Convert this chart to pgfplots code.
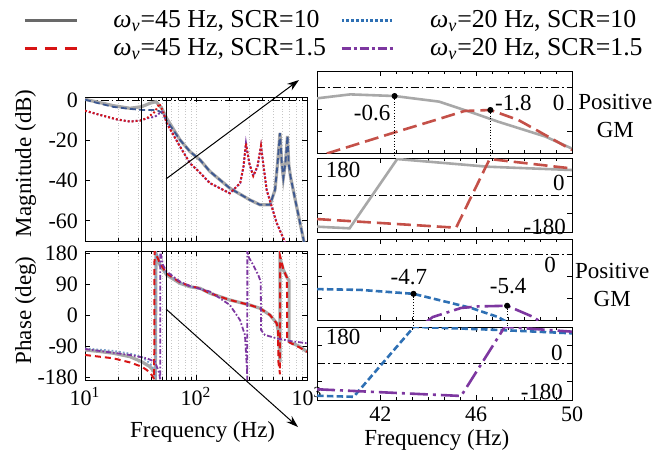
\documentclass[border=0pt]{standalone}
\usepackage{fontspec}
\setmainfont{Liberation Serif}
\usepackage{pgfplots}
\pgfplotsset{compat=1.18}
\usetikzlibrary{arrows.meta}

\definecolor{cgray}{RGB}{168,168,168}
\definecolor{cgrayleg}{RGB}{105,105,105}
\definecolor{cblue}{RGB}{46,112,180}
\definecolor{cbluedark}{RGB}{60,88,145}
\definecolor{cbluelight}{RGB}{125,160,200}
\definecolor{cred}{RGB}{215,20,20}
\definecolor{credr}{RGB}{196,80,72}
\definecolor{cpurple}{RGB}{125,55,160}

\newcommand{\wv}{\textit{ω}\textsubscript{\textit{v}}}

\tikzset{
  zero/.style={black, thin, dash pattern=on 4pt off 1.5pt on 0.8pt off 1.5pt},
  ann/.style={font=\fontsize{11.5}{13}\selectfont, inner sep=0pt},
}
\pgfplotsset{
  every axis/.append style={scale only axis, clip mode=individual, anchor=north west,
    tick label style={font=\fontsize{11}{12}\selectfont},
    label style={font=\fontsize{11.5}{13}\selectfont},
    tick style={black, line width=0.4pt}, major tick length=2.5pt, minor tick length=1.5pt,
    axis line style={line width=0.5pt}},
}

\begin{document}
\begin{tikzpicture}
\path[use as bounding box] (0,0) rectangle (336pt,-228pt);

% ---------------- left: magnitude
\begin{axis}[at={(42.5pt,-48.5pt)}, width=111pt, height=72pt,
  xmode=log, xmin=10, xmax=1000, xtick={10,100,1000}, xticklabels={},
  xmajorgrids, xminorgrids,
  major grid style={densely dotted, gray!45}, minor grid style={densely dotted, gray!45},
  ymin=-70, ymax=1.5, ytick={-60,-40,-20,0}, yticklabels={-60,-40,-20,0},
  ylabel={Magnitude (dB)},
  ylabel style={at={(axis description cs:-0.268,0.54)}, anchor=center},
  legend columns=2, legend cell align=left,
  legend image code/.code={\draw[#1] (0pt,0pt) -- (26pt,0pt);},
  legend style={at={(axis description cs:-0.279,1.434)}, anchor=west,
    draw=none, fill=none, inner sep=0pt,
    font=\fontsize{12.9}{14}\selectfont,
    nodes={inner ysep=0.5pt, inner xsep=0pt},
    /tikz/every odd column/.append style={column sep=17.5pt},
    /tikz/every even column/.append style={column sep=7pt},
    /tikz/row sep=3pt},
]
\addlegendimage{cgrayleg, line width=1.5pt}
\addlegendentry{\wv=45 Hz, SCR=10}
\addlegendimage{cblue, densely dotted, line width=1.4pt}
\addlegendentry{\wv=20 Hz, SCR=10}
\addlegendimage{cred, dash pattern=on 6pt off 4pt, line width=1.5pt}
\addlegendentry{\wv=45 Hz, SCR=1.5}
\addlegendimage{cpurple, dash pattern=on 4.5pt off 1.5pt on 1.5pt off 1.5pt, line width=1.5pt}
\addlegendentry{\wv=20 Hz, SCR=1.5}

\addplot[zero, forget plot] coordinates {(10,0) (1000,0)};
% 45 Hz, SCR=10
\addplot[cgray, line width=1.6pt, forget plot] coordinates {
(10,0.35) (13.65,-1.3) (18,-2.8) (25.4,-4.1) (32.4,-3.3) (38.5,-1.6) (43.6,-0.8)
(49.1,-4.1) (54.5,-9.1) (71.8,-19.8) (88.3,-25.6) (108.7,-29.7) (133.7,-35.5)
(202,-43.8) (306,-49.6) (377,-52) (464,-52) (515,-44.6) (543,-31.4) (571,-16.4)
(592,-31) (612,-38.7) (640,-31) (667,-17.8) (685,-32) (710,-38) (760,-46)
(865,-61) (940,-70.5)};
% 20 Hz, SCR=10
\addplot[cbluedark, line width=0.9pt, dash pattern=on 3pt off 1.6pt, forget plot] coordinates {
(10,0.2) (13.65,-1.8) (18,-3.4) (25.4,-4.4) (32.4,-4.9) (38.5,-5.0) (43.4,-5.0)
(46,-5.4) (49,-6.2) (52.7,-9.0) (54.5,-10.2) (71.8,-19.8) (88.3,-25.6) (108.7,-29.7)
(133.7,-35.5) (202,-43.8) (306,-49.6) (377,-52) (464,-52) (515,-44.6) (543,-31.4)
(571,-16.4) (592,-31) (612,-38.7) (640,-31) (667,-17.8) (685,-32) (710,-38)
(760,-46) (865,-61) (940,-70.5)};
% 20 Hz, SCR=1.5
\addplot[cpurple, line width=1pt, densely dotted, forget plot] coordinates {
(10,-5.3) (13.65,-7.4) (19.3,-9.6) (25.4,-10.7) (31.3,-10.2) (36,-9.1) (42.7,-8.3)
(47,-6.5) (49.5,-5.8) (52,-8) (54.5,-11.5) (71.8,-23.1) (88.3,-31.4) (108.7,-36.1)
(133.7,-41.3) (202,-46.3) (250,-41.3) (268,-33) (282,-21.5) (302,-31.4) (328,-37.7)
(358,-33) (385,-22.8) (410,-34.7) (433,-44.6) (533,-61) (633,-70.5)};
% 45 Hz, SCR=1.5
\addplot[cred, line width=1pt, dash pattern=on 0.9pt off 1.1pt, forget plot] coordinates {
(10,-5.3) (13.65,-7.4) (19.3,-9.6) (25.4,-10.7) (31.3,-10.2) (36,-9.1) (42.7,-5.8)
(46.7,-1.8) (50.4,-5.5) (54.5,-11.5) (71.8,-23.1) (88.3,-31.4) (108.7,-36.1)
(133.7,-41.3) (202,-46.3) (250,-41.3) (268,-33) (282,-21.5) (302,-31.4) (328,-37.7)
(358,-33) (385,-22.8) (410,-34.7) (433,-44.6) (533,-61) (633,-70.5)};
\coordinate (boxA) at (axis cs:32.6,1.5);
\coordinate (arA) at (axis cs:53.67,-39.2);
\end{axis}

% ---------------- left: phase
\begin{axis}[at={(42.5pt,-125.5pt)}, width=111pt, height=64.5pt,
  xmode=log, xmin=10, xmax=1000, xtick={10,100,1000},
  xticklabels={10\textsuperscript{1},10\textsuperscript{2},10\textsuperscript{3}},
  xmajorgrids, xminorgrids,
  major grid style={densely dotted, gray!45}, minor grid style={densely dotted, gray!45},
  ymin=-188.7, ymax=185.8, ytick={-180,-90,0,90,180}, yticklabels={-180,-90,0,90,180},
  ylabel={Phase (deg)},
  ylabel style={at={(axis description cs:-0.268,0.54)}, anchor=center},
  xlabel={Frequency (Hz)},
  xlabel style={at={(axis description cs:0.53,-0.403)}, anchor=center},
]
\addplot[cgray, line width=1.6pt] coordinates {
(10,-101.6) (13.65,-106) (18,-111) (25.4,-121) (32.4,-135.6) (38.5,-150) (42,-164.6)
(43.0,-178) (43.6,179) (47.4,145) (54.5,116) (71.8,92) (88.3,82) (108.7,77.5)
(133.7,63) (202,43.6) (306,29) (377,19.5) (464,0) (533,-24) (549,-43.6) (562,-90)
(571,-136) (571.5,165) (612,131) (667,106.5) (690,100) (690.5,-77.5) (865,-92) (1000,-106.6)};
\addplot[cbluelight, line width=0.9pt, densely dotted] coordinates {
(10,-97) (18,-104) (25.4,-112) (32.4,-122) (38.5,-140) (42,-160) (43.3,-186)
(43.4,186) (47.4,150) (54.5,118) (71.8,93) (88.3,82) (108.7,77.5) (133.7,63)};
\addplot[cred, line width=1pt, dash pattern=on 3pt off 2pt] coordinates {
(10,-116) (18,-125.7) (25.4,-137.6) (32.4,-150) (36,-159.7) (39,-169) (42,-186)
(42.3,186) (47.4,150) (54.5,120) (71.8,95) (88.3,84) (108.7,77.5) (133.7,63)
(202,43.6) (306,29) (377,19.5) (464,0) (533,-24) (549,-45) (552,-135) (571,-172)
(571.3,172) (612,133) (660,108) (662,-72) (700,-80) (865,-95) (1000,-107)};
\addplot[cpurple, line width=0.9pt, dash pattern=on 2.5pt off 1pt on 0.8pt off 1pt] coordinates {
(10,-98.7) (25.4,-116) (36,-125.7) (42.7,-135.6) (46.7,-169) (47.6,-189) (47.7,186)
(50.4,145) (54.5,126) (71.8,97) (88.3,84) (133.7,68) (202,29) (249,-14.5) (276,-58)
(287,-150) (290,-189) (290.2,189) (296,170) (328,145) (364,116) (383,97) (386,-43.6)
(418,-58) (533,-67.7) (703,-75.5) (1000,-82)};
\coordinate (boxB) at (axis cs:53.67,-188.7);
\coordinate (arB) at (axis cs:53.67,17.4);
\end{axis}

% ---------------- right 1: magnitude, 45 Hz
\begin{axis}[at={(158.5pt,-35.5pt)}, width=127.5pt, height=41pt,
  xmin=39.35, xmax=50, xtick={42,46,50}, minor x tick num=5, xticklabels={},
  ymin=-6, ymax=1.455, ytick={-6,-4,-2,0}, yticklabels={}]
\addplot[zero] coordinates {(39.35,0) (50,0)};
\addplot[cgray, line width=1.3pt] coordinates {
(39.35,-1.03) (40.74,-0.67) (42.59,-0.82) (44.45,-1.33) (45.93,-2.4) (46.91,-3.15)
(48.88,-4.5) (50,-5.6)};
\addplot[credr, line width=1.3pt, dash pattern=on 7pt off 3pt] coordinates {
(39.76,-6.05) (42.56,-4.15) (44.39,-2.94) (45.51,-2.18) (46.59,-2.09) (47.76,-3.0)
(48.88,-4.36) (50,-5.73)};
\addplot[only marks, mark=*, mark size=1.3pt, black] coordinates {(42.59,-0.82) (46.59,-2.09)};
\node[ann] at (axis cs:41.65,-2.39) {-0.6};
\node[ann] at (axis cs:47.55,-1.43) {-1.8};
\node[ann] at (axis cs:49.44,-1.43) {0};
\node[ann, align=center] at (axis cs:51.81,-2.63) {Positive\\[1pt]GM};
\coordinate (pC1) at (axis cs:42.59,-0.82);
\coordinate (pC2) at (axis cs:46.59,-2.09);
\end{axis}

% ---------------- right 2: phase, 45 Hz
\begin{axis}[at={(158.5pt,-79pt)}, width=127.5pt, height=37pt,
  xmin=39.35, xmax=50, xtick={42,46,50}, minor x tick num=5, xticklabels={},
  ymin=-180, ymax=180, ytick={-90,0,90}, yticklabels={}]
\addplot[zero] coordinates {(39.35,0) (50,0)};
\addplot[cgray, line width=1.3pt] coordinates {
(39.35,-154) (40.71,-162) (42.7,175) (46.49,137.6) (50,121.6)};
\addplot[credr, line width=1.3pt, dash pattern=on 7pt off 3pt] coordinates {
(39.35,-117) (45.16,-159) (46.56,175) (50,129)};
\node[ann] at (axis cs:40.44,121.6) {180};
\node[ann] at (axis cs:49.45,58.4) {0};
\node[ann] at (axis cs:48.86,-155.6) {-180};
\coordinate (tD1) at (axis cs:42.59,180);
\coordinate (tD2) at (axis cs:46.59,180);
\end{axis}

% ---------------- right 3: magnitude, 20 Hz
\begin{axis}[at={(158.5pt,-119.5pt)}, width=127.5pt, height=40.5pt,
  xmin=39.35, xmax=50, xtick={42,46,50}, minor x tick num=5, xticklabels={},
  ymin=-6, ymax=1.39, ytick={-6,-4,-2,0}, yticklabels={}]
\addplot[zero] coordinates {(39.35,0) (50,0)};
\addplot[cblue, line width=1.3pt, dash pattern=on 3.3pt off 1.6pt] coordinates {
(39.35,-3.18) (41.16,-3.25) (43.38,-3.61) (44.67,-4.3) (45.79,-4.9) (46.91,-5.73) (47.3,-6.2)};
\addplot[cpurple, line width=1.3pt, dash pattern=on 9pt off 2.5pt on 1.5pt off 2.5pt] coordinates {
(43.9,-6.2) (44.18,-5.73) (45.37,-4.9) (46.07,-4.76) (47.29,-4.7) (48.39,-5.73) (48.7,-6.2)};
\addplot[only marks, mark=*, mark size=1.3pt, black] coordinates {(43.38,-3.61) (47.29,-4.7)};
\node[ann] at (axis cs:43.19,-2.04) {-4.7};
\node[ann] at (axis cs:47.33,-2.95) {-5.4};
\node[ann] at (axis cs:49.09,-0.97) {0};
\node[ann, align=center] at (axis cs:51.68,-2.79) {Positive\\[1pt]GM};
\coordinate (pE1) at (axis cs:43.38,-3.61);
\coordinate (pE2) at (axis cs:47.29,-4.7);
\end{axis}

% ---------------- right 4: phase, 20 Hz
\begin{axis}[at={(158.5pt,-163.5pt)}, width=127.5pt, height=36.5pt,
  xmin=39.35, xmax=50, xtick={42,46,50}, minor x tick num=5, xticklabels={42,46,50},
  ymin=-180, ymax=180, ytick={-90,0,90}, yticklabels={},
  xlabel={Frequency (Hz)},
  xlabel style={at={(axis description cs:0.47,-0.548)}, anchor=center}]
\addplot[zero] coordinates {(39.35,0) (50,0)};
\addplot[cblue, line width=1.3pt, dash pattern=on 3.3pt off 1.6pt] coordinates {
(39.35,-159) (40.88,-164) (43.4,181) (47.05,165) (50,149)};
\addplot[cpurple, line width=1.3pt, dash pattern=on 9pt off 2.5pt on 1.5pt off 2.5pt] coordinates {
(39.35,-127) (45.37,-160) (47.19,181) (50,157)};
\node[ann] at (axis cs:40.44,130.7) {180};
\node[ann] at (axis cs:49.37,51.8) {0};
\node[ann] at (axis cs:48.74,-140.5) {-180};
\coordinate (tF1) at (axis cs:43.38,180);
\coordinate (tF2) at (axis cs:47.29,180);
\end{axis}

% zoom box, arrows and guide lines
\draw[line width=0.5pt] (boxA) rectangle (boxB);
\draw[line width=0.5pt, -{Stealth[length=6pt,width=4pt]}] (arA) -- (149.5pt,-40pt);
\draw[line width=0.5pt, -{Stealth[length=6pt,width=4pt]}] (arB) -- (149pt,-213.5pt);
\draw[densely dotted, line width=0.4pt] (pC1) -- (tD1);
\draw[densely dotted, line width=0.4pt] (pC2) -- (tD2);
\draw[densely dotted, line width=0.4pt] (pE1) -- (tF1);
\draw[densely dotted, line width=0.4pt] (pE2) -- (tF2);
\end{tikzpicture}
\end{document}
